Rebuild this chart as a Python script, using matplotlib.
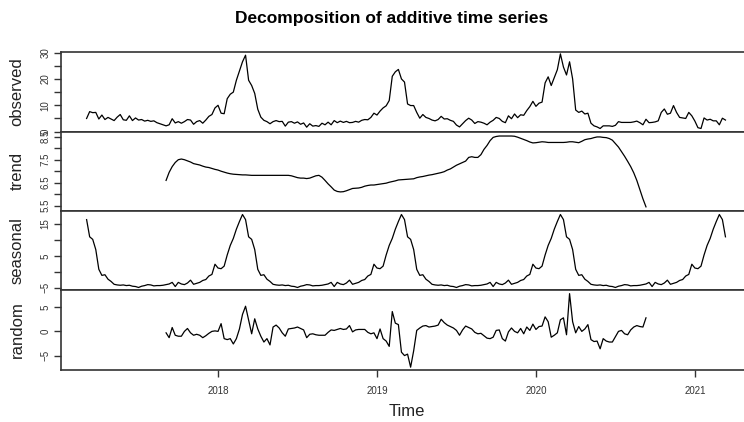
import numpy as np
import matplotlib
matplotlib.use("Agg")
import matplotlib.pyplot as plt
from matplotlib.ticker import FixedLocator

plt.rcParams['font.family'] = ['Liberation Sans', 'DejaVu Sans']

# weekly series, frequency 52, starting at week 10 of 2017
start_year = 2017
start_week = 9
freq = 52

observed = [
    5.0, 7.6, 7.2, 7.3, 4.8, 6.3, 4.6, 5.4, 4.8, 4.2,
    5.5, 6.5, 4.5, 4.3, 6.0, 4.2, 5.2, 4.4, 4.6, 4.0,
    4.3, 3.9, 4.1, 3.4, 3.0, 2.6, 2.2, 2.6, 4.9, 3.3,
    3.8, 3.2, 3.8, 4.6, 4.4, 2.8, 3.8, 4.2, 3.2, 4.4,
    5.8, 6.5, 9.0, 10.0, 7.0, 6.8, 12.5, 14.2, 15.0, 19.5,
    23.0, 26.5, 29.0, 19.5, 17.5, 14.5, 8.5, 5.5, 4.3, 3.8,
    3.0, 3.8, 4.2, 3.8, 3.9, 2.1, 3.6, 3.8, 3.2, 3.7,
    2.8, 3.3, 1.7, 3.0, 2.1, 2.3, 2.0, 3.2, 2.6, 3.6,
    2.6, 4.2, 3.4, 4.0, 3.5, 3.9, 3.4, 3.5, 3.9, 3.6,
    4.3, 4.6, 4.5, 5.4, 7.0, 6.3, 7.8, 9.0, 9.8, 11.8,
    21.0, 22.7, 23.6, 20.0, 18.8, 10.5, 9.9, 9.9, 7.3, 5.1,
    6.5, 5.4, 5.0, 4.4, 4.1, 4.6, 5.8, 4.8, 4.9, 4.3,
    3.9, 2.5, 1.8, 3.0, 4.2, 5.1, 4.4, 3.1, 3.8, 3.6,
    3.2, 2.6, 3.6, 4.3, 5.4, 5.0, 3.9, 3.4, 6.0, 4.9,
    6.7, 5.3, 6.4, 6.2, 8.0, 9.5, 11.5, 9.6, 10.8, 11.2,
    18.5, 20.8, 17.5, 20.5, 23.5, 29.5, 24.5, 21.5, 26.5, 20.0,
    8.2, 7.3, 7.8, 6.7, 7.0, 3.2, 2.2, 1.8, 1.2, 2.2,
    2.2, 2.2, 2.0, 2.4, 3.8, 3.5, 3.5, 3.5, 3.5, 3.7,
    4.0, 3.4, 2.6, 4.7, 3.4, 3.5, 3.7, 4.1, 7.3, 8.6,
    6.6, 7.0, 9.9, 7.3, 5.4, 5.2, 5.0, 7.3, 6.0, 4.0,
    1.5, 1.2, 5.2, 4.4, 4.7, 4.1, 4.1, 2.6, 5.1, 4.4,
]

# trend and random exist from week index 26 to 183 (52-week moving average)
trend_offset = 26
trend = [
    6.60, 6.95, 7.20, 7.38, 7.50, 7.53, 7.50, 7.45, 7.40, 7.33,
    7.30, 7.27, 7.22, 7.18, 7.16, 7.12, 7.08, 7.05, 7.00, 6.96,
    6.92, 6.89, 6.87, 6.86, 6.85, 6.84, 6.84, 6.83, 6.82, 6.82,
    6.82, 6.82, 6.82, 6.82, 6.82, 6.82, 6.82, 6.82, 6.82, 6.82,
    6.82, 6.80, 6.76, 6.72, 6.70, 6.70, 6.68, 6.70, 6.75, 6.80,
    6.82, 6.74, 6.60, 6.45, 6.32, 6.18, 6.12, 6.10, 6.11, 6.15,
    6.20, 6.25, 6.26, 6.27, 6.30, 6.35, 6.38, 6.40, 6.40, 6.42,
    6.44, 6.46, 6.48, 6.52, 6.55, 6.58, 6.62, 6.63, 6.64, 6.65,
    6.66, 6.67, 6.72, 6.75, 6.77, 6.80, 6.83, 6.85, 6.88, 6.91,
    6.94, 6.98, 7.05, 7.10, 7.18, 7.26, 7.32, 7.38, 7.44, 7.60,
    7.63, 7.60, 7.60, 7.72, 7.95, 8.12, 8.33, 8.47, 8.51, 8.53,
    8.53, 8.53, 8.53, 8.53, 8.52, 8.48, 8.43, 8.38, 8.33, 8.27,
    8.23, 8.24, 8.26, 8.28, 8.27, 8.25, 8.25, 8.25, 8.25, 8.25,
    8.25, 8.26, 8.28, 8.28, 8.26, 8.24, 8.30, 8.37, 8.40, 8.42,
    8.46, 8.49, 8.49, 8.47, 8.46, 8.42, 8.35, 8.20, 8.05, 7.85,
    7.65, 7.43, 7.20, 6.93, 6.60, 6.20, 5.80, 5.45,
]

# one year of seasonal figure (52 weeks), repeated over the series
seasonal_figure = [
    16.4, 11.0, 10.2, 7.0, 0.8, -1.1, -0.9, -2.3, -3.0, -3.9,
    -4.1, -4.2, -4.1, -4.3, -4.2, -4.5, -4.6, -4.9, -4.5, -4.3,
    -4.0, -4.1, -4.4, -4.3, -4.3, -4.2, -4.0, -3.8, -3.3, -4.6,
    -3.3, -3.8, -4.0, -3.5, -2.6, -3.9, -3.6, -3.3, -2.7, -2.4,
    -1.3, -0.8, 2.4, 1.2, 1.0, 1.8, 5.3, 8.3, 10.5, 13.4,
    15.8, 18.0,
]

random_part = [
    -0.3, -1.3, 0.8, -0.8, -1.0, -1.0, 0.0, 0.6, -0.3, -0.8,
    -0.6, -0.8, -1.3, -0.9, -0.4, 0.0, 0.1, 0.0, 1.6, -1.5,
    -1.7, -1.5, -2.6, -1.5, 0.5, 3.5, 5.2, 2.4, -0.5, 2.6,
    0.5, -1.0, -2.2, -1.5, -2.8, 0.9, 1.3, 0.7, -0.3, -1.0,
    0.5, 0.6, 0.7, 0.9, 0.6, 0.3, -1.3, -0.6, -0.5, -0.7,
    -0.8, -0.8, -0.8, -0.2, 0.3, 0.2, 0.4, 0.6, 0.4, 0.5,
    1.2, -0.1, 0.3, 0.4, 0.4, 0.4, -0.2, -0.5, -0.3, -1.5,
    0.5, -1.5, -2.0, -3.1, 4.1, 1.7, 1.4, -4.3, -5.0, -4.7,
    -7.4, -4.0, 0.2, 0.7, 1.1, 1.2, 0.9, 1.0, 1.1, 1.3,
    2.5, 1.8, 1.3, 1.0, 0.7, 0.2, -0.8, 0.3, 1.1, 0.8,
    0.5, -0.2, -0.5, -0.4, -0.9, -1.4, -1.5, -1.2, 0.2, 0.3,
    -1.5, -2.0, -0.1, 0.7, 0.0, -0.3, 0.6, -0.5, 0.9, 0.2,
    1.5, 0.4, 1.0, 1.1, 3.0, 2.0, -1.2, -0.8, -0.3, 2.4,
    2.8, -0.7, 7.8, 2.0, -0.3, 1.0, 0.0, 0.5, 1.4, -1.7,
    -2.1, -2.0, -3.6, -1.5, -2.0, -2.2, -2.2, -1.1, 0.0, 0.2,
    -0.5, -0.7, 0.3, 0.9, 1.2, 1.0, 0.9, 2.8,
]

n = len(observed)
time = start_year + (start_week + np.arange(n)) / freq
seasonal = np.resize(seasonal_figure, n)
t_mid = time[trend_offset:trend_offset + len(trend)]

W, H = 744, 422
fig = plt.figure(figsize=(W / 100, H / 100), dpi=100)

left, right = 61, 751
top, bottom = 52.3, 369.7
ph = (bottom - top) / 4

panels = [
    ("observed", time, observed, (0.0, 30.1), 10, 5),
    ("trend", t_mid, trend, (5.27, 8.72), 1.0, 0.5),
    ("seasonal", time, seasonal, (-5.8, 19.1), 10, 5),
    ("random", t_mid, random_part, (-7.92, 8.48), 5, 5),
]
major_start = {"observed": 0, "trend": 5.5, "seasonal": -5, "random": -5}

axes = []
for i, (name, x, y, ylim, step, mstep) in enumerate(panels):
    y0 = top + ph * (i + 1)
    ax = fig.add_axes([left / W, 1 - y0 / H, (right - left) / W, ph / H])
    ax.plot(x, y, color="black", lw=0.9)
    ax.set_xlim(2017.012, 2021.353)
    ax.set_ylim(*ylim)
    lo = major_start[name]
    ax.yaxis.set_major_locator(FixedLocator(np.arange(lo, ylim[1], step)))
    ax.yaxis.set_minor_locator(FixedLocator(np.arange(lo + mstep, ylim[1], step)))
    ax.tick_params(axis="y", which="both", length=5, width=1.0, color="#333333",
                   labelsize=7, labelcolor="#333333", pad=2.5)
    for lab in ax.get_yticklabels():
        lab.set_rotation(90)
        lab.set_va("center")
    for sp in ax.spines.values():
        sp.set_linewidth(1.2)
        sp.set_color("#333333")
    if name != "random":
        ax.set_xticks([])
    else:
        ax.set_xticks([2018, 2019, 2020, 2021])
        ax.set_xticklabels(["2018", "2019", "2020", "2021"])
        ax.tick_params(axis="x", length=5, width=1.0, color="#333333",
                       labelsize=7, labelcolor="#333333", pad=7)
    fig.text(17 / W, 1 - (y0 - ph / 2) / H, name, rotation=90, ha="center",
             va="center", fontsize=12, color="#222222")
    axes.append(ax)

fig.text(392 / W, 1 - 18 / H, "Decomposition of additive time series",
         ha="center", va="center", fontsize=12.5, fontweight="bold")
fig.text(407 / W, 1 - 412 / H, "Time", ha="center", va="center",
         fontsize=12, color="#222222")

fig.savefig("out.png", dpi=100)
